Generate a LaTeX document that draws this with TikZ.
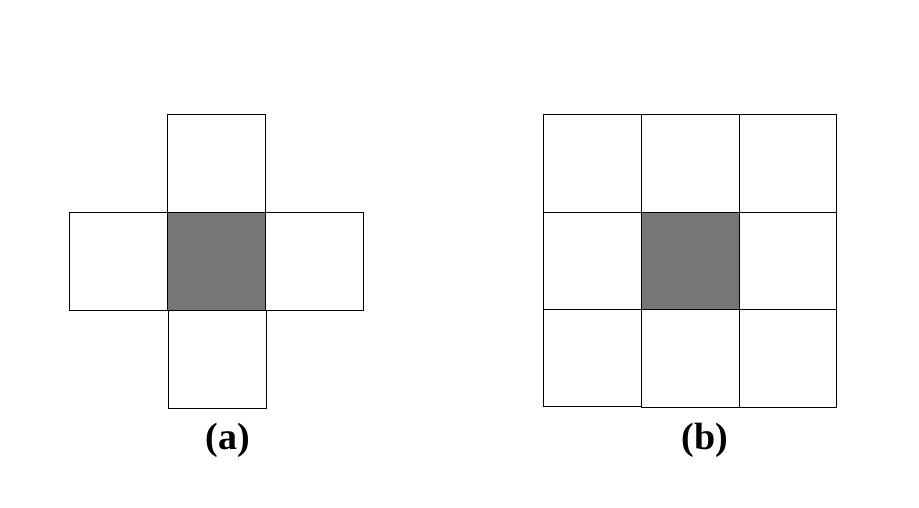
\documentclass[tikz,border=0pt]{standalone}
\usepackage{fontspec}
\setmainfont{Liberation Serif}
\definecolor{cellgray}{RGB}{119,119,119}
\begin{document}
\begin{tikzpicture}[x=1pt,y=-1pt,
  cell/.style={draw=black,line width=1pt,fill=white,minimum width=98pt,minimum height=98pt,inner sep=0pt,outer sep=0pt,anchor=north west},
  center/.style={cell,fill=cellgray},
  lbl/.style={font=\bfseries\fontsize{38}{44}\selectfont,inner sep=0pt}]
\useasboundingbox (0,0) rectangle (919,507);
% (a) cross
\node[cell] (at) at (167.3,114.3) {};
\node[cell] (al) at (69.3,212.3) {};
\node[cell] (ar) at (265.3,212.3) {};
\node[cell] (ab) at (168.3,310.8) {};
\node[center] (ac) at (167.3,212.3) {};
% (b) grid
\node[cell] (b11) at (543.3,114.3) {};
\node[cell] (b12) at (641.3,114.3) {};
\node[cell,minimum width=97pt] (b13) at (739.3,114.3) {};
\node[cell] (b21) at (543.3,212.5) {};
\node[cell,minimum width=97pt] (b23) at (739.3,212.8) {};
\node[cell,minimum height=97.5pt] (b31) at (543.3,309.3) {};
\node[cell] (b32) at (641.3,309.8) {};
\node[cell,minimum width=97pt] (b33) at (739.3,309.8) {};
\node[center,minimum height=97pt] (b22) at (641.3,212.5) {};
% labels
\node[lbl] (la) at (228,440) {(a)};
\node[lbl] (lb) at (705,440) {(b)};
\end{tikzpicture}
\end{document}
